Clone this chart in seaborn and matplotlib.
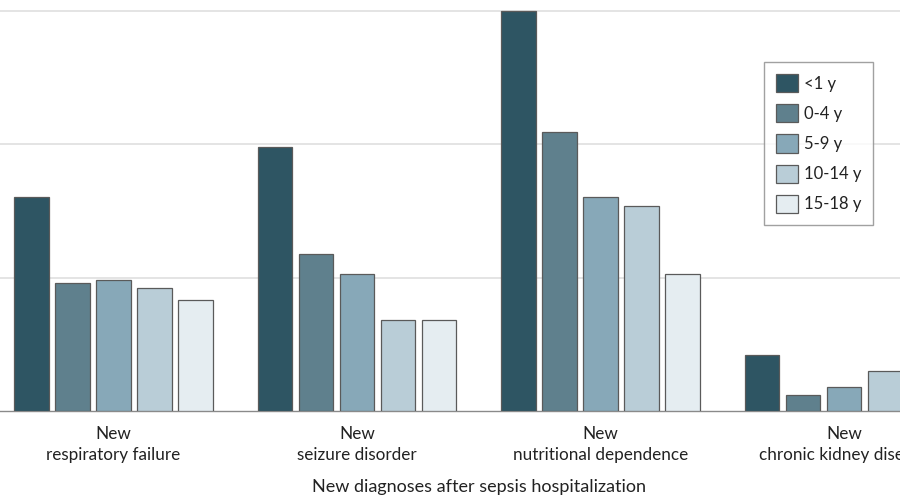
import matplotlib
matplotlib.use("Agg")
import matplotlib.pyplot as plt
import seaborn as sns
import pandas as pd
from matplotlib.patches import Patch

diagnoses = ["New\nrespiratory failure", "New\nseizure disorder",
             "New\nnutritional dependence", "New\nchronic kidney disease"]
age_groups = ["<1 y", "0-4 y", "5-9 y", "10-14 y", "15-18 y"]
values_lt1 = [1.60, 1.98, 3.00, 0.42]
values_0_4 = [0.96, 1.18, 2.09, 0.12]
values_5_9 = [0.98, 1.03, 1.60, 0.18]
values_10_14 = [0.92, 0.68, 1.54, 0.30]
values_15_18 = [0.83, 0.68, 1.03, 0.22]
colors = ["#2e5563", "#5f808d", "#87a8b8", "#b9cdd7", "#e5edf1"]

series = [values_lt1, values_0_4, values_5_9, values_10_14, values_15_18]
rows = []
for ag, vals in zip(age_groups, series):
    for d, v in zip(diagnoses, vals):
        rows.append({"Diagnosis": d, "Age": ag, "Value": v})
df = pd.DataFrame(rows)

sns.set_theme(style="white")
font = ["Lato", "DejaVu Sans"]
plt.rcParams["font.family"] = font

fig = plt.figure(figsize=(9, 5), dpi=100)
ax = fig.add_axes([0, 0.178, 1, 0.822])

sns.barplot(data=df, x="Diagnosis", y="Value", hue="Age", order=diagnoses,
            hue_order=age_groups, palette=colors, saturation=1, width=0.842,
            gap=0.15, edgecolor="#5a5a5a", linewidth=0.9, ax=ax, legend=False,
            zorder=3)

ax.set_xlim(-0.466, 3.23)
ax.set_ylim(0, 3.08)
ax.set_yticks([1, 2, 3])
ax.set_yticklabels([])
ax.yaxis.grid(True, color="#dcdcdc", linewidth=1.1, zorder=0)
ax.xaxis.grid(False)
ax.tick_params(axis="y", length=0)
ax.tick_params(axis="x", length=0, pad=11, labelsize=12.3, labelcolor="#222222")
for lab in ax.get_xticklabels():
    lab.set_linespacing(1.4)
for s in ["left", "right", "top"]:
    ax.spines[s].set_visible(False)
ax.spines["bottom"].set_color("#8a8a8a")
ax.spines["bottom"].set_linewidth(1.0)
ax.set_ylabel("")
ax.set_xlabel("New diagnoses after sepsis hospitalization", fontsize=13,
              color="#222222", labelpad=11)
ax.xaxis.label.set_x(479 / 900)

handles = [Patch(facecolor=c, edgecolor="#5a5a5a", linewidth=0.9) for c in colors]
leg = fig.legend(handles, age_groups, loc="upper left",
                 bbox_to_anchor=(764 / 900, 1 - 62 / 500), frameon=True,
                 fontsize=12, handlelength=1.3, handleheight=1.3,
                 labelspacing=0.72, handletextpad=0.35, borderpad=0.72,
                 borderaxespad=0, fancybox=False)
leg.get_frame().set_edgecolor("#8a8a8a")
leg.get_frame().set_linewidth(1.0)
for t in leg.get_texts():
    t.set_color("#222222")

fig.savefig("out.png", dpi=100)
